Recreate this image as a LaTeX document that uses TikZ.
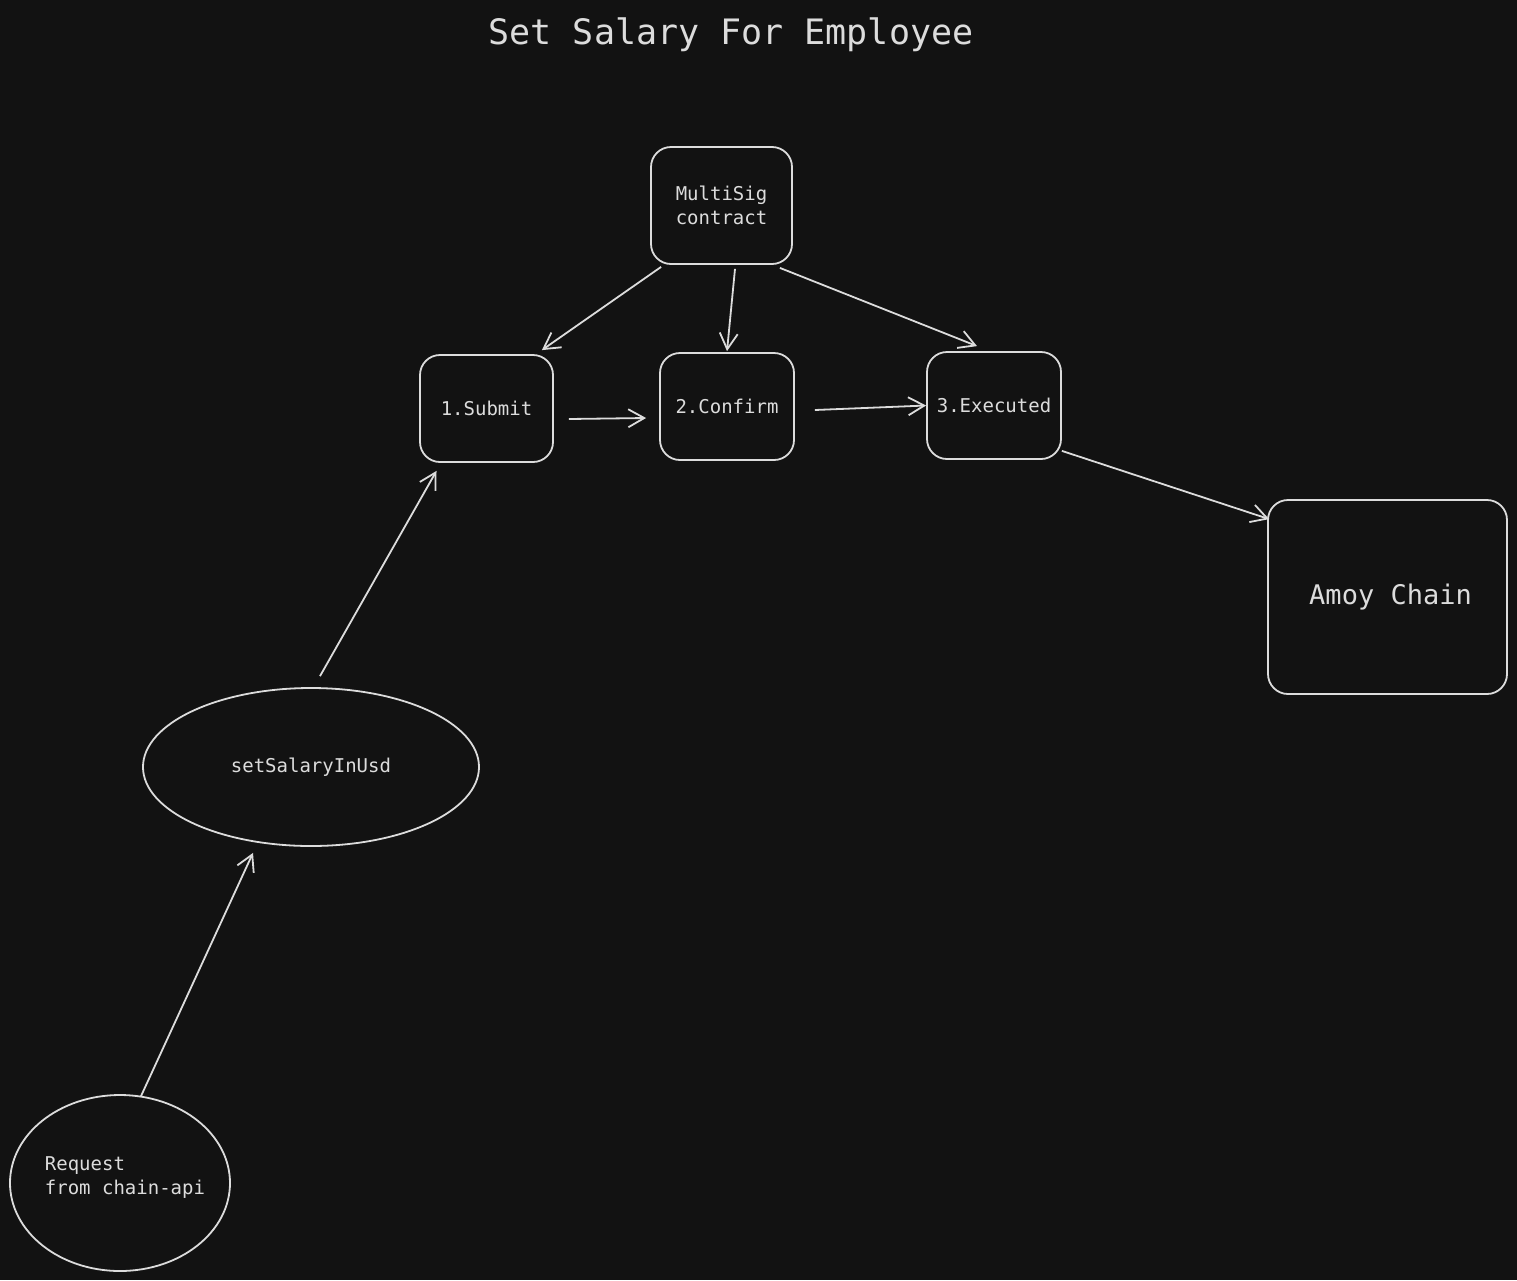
\documentclass[tikz,border=0pt]{standalone}
\usepackage{fontspec}
\setmonofont{DejaVu Sans Mono}
\usetikzlibrary{arrows.meta,shapes.geometric}
\definecolor{bgdark}{HTML}{121212}
\definecolor{inkgray}{HTML}{DCDCDC}
\tikzset{
  box/.style={draw=inkgray,line width=1.8pt,rounded corners=20pt,inner sep=0pt,
    text=inkgray,font=\ttfamily\fontsize{19}{24}\selectfont,align=center},
  blob/.style={ellipse,draw=inkgray,line width=1.8pt,inner sep=0pt,
    text=inkgray,font=\ttfamily\fontsize{19}{24}\selectfont},
  arr/.style={draw=inkgray,line width=1.8pt,-{Straight Barb[length=16pt,width=18pt,line width=1.8pt]}}
}
\begin{document}
\begin{tikzpicture}[x=1pt,y=-1pt]
\fill[bgdark] (0,0) rectangle (1517,1280);
\useasboundingbox (0,0) rectangle (1517,1280);
\node[text=inkgray,font=\ttfamily\fontsize{35}{40}\selectfont] (title) at (731,35) {Set Salary For Employee};
\node[box,minimum width=141pt,minimum height=117pt] (multi) at (721.5,205.5) {MultiSig\\contract};
\node[box,minimum width=133pt,minimum height=107pt] (submit) at (486.5,408.5) {1.Submit};
\node[box,minimum width=134pt,minimum height=107pt] (confirm) at (727,406.5) {2.Confirm};
\node[box,minimum width=134pt,minimum height=107pt] (exec) at (994,405.5) {3.Executed};
\node[box,minimum width=239pt,minimum height=194pt,font=\ttfamily\fontsize{27}{32}\selectfont] (amoy) at (1387.5,597) {\hspace*{6pt}Amoy Chain};
\node[blob,minimum width=336pt,minimum height=158pt] (setsal) at (311,767) {setSalaryInUsd};
\node[blob,minimum width=220pt,minimum height=176pt,inner xsep=-20pt,text depth=15pt,align=left] (request) at (120,1183) {\hspace*{10pt}Request\\\hspace*{10pt}from chain-api};
\draw[arr] ([xshift=21pt,yshift=-2pt]request.north) -- ([xshift=-58pt,yshift=-6pt]setsal.south);
\draw[arr] ([xshift=9pt,yshift=11pt]setsal.north) -- ([xshift=-50pt,yshift=-8pt]submit.south);
\draw[arr] ([xshift=11pt,yshift=-2pt]multi.south west) -- ([xshift=-12pt,yshift=4pt]submit.north east);
\draw[arr] ([xshift=13.5pt,yshift=-4pt]multi.south) -- ([yshift=1pt]confirm.north);
\draw[arr] ([xshift=-13pt,yshift=-3pt]multi.south east) -- ([xshift=-17pt,yshift=5pt]exec.north);
\draw[arr] ([xshift=15pt,yshift=-10.5pt]submit.east) -- ([xshift=-13pt,yshift=-11.5pt]confirm.west);
\draw[arr] ([xshift=20pt,yshift=-3.5pt]confirm.east) -- (exec.west);
\draw[arr] ([yshift=9pt]exec.south east) -- ([xshift=2pt,yshift=-20pt]amoy.north west);
\end{tikzpicture}
\end{document}
